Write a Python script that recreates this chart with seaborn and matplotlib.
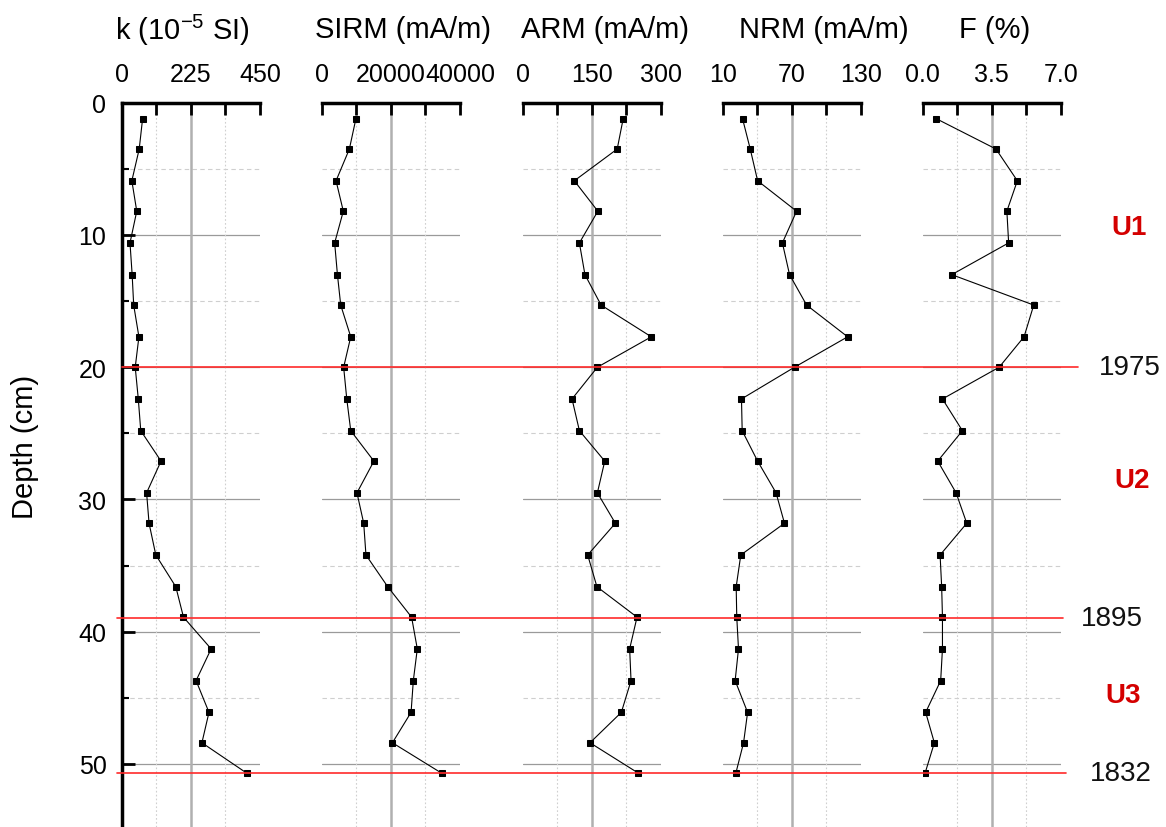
import matplotlib
matplotlib.use('Agg')
import matplotlib.pyplot as plt
import seaborn as sns
from matplotlib import transforms
from matplotlib.lines import Line2D

# Depth of each sample (cm)
depth = [1.2, 3.5, 5.9, 8.2, 10.6, 13.0, 15.3, 17.7, 20.0, 22.4, 24.8, 27.1,
         29.5, 31.8, 34.2, 36.6, 38.9, 41.3, 43.7, 46.1, 48.4, 50.7]

# Magnetic parameters read from the profile
k_vals = [68, 57, 33, 49, 27, 34, 39, 56, 44, 54, 62, 128,
          81, 89, 111, 176, 201, 291, 242, 284, 261, 407]
sirm_vals = [9900, 8000, 4150, 6250, 3750, 4550, 5500, 8400, 6350, 7250, 8400, 15100,
             10200, 12150, 12800, 19100, 26000, 27650, 26500, 25850, 20450, 34700]
arm_vals = [218, 205, 112, 163, 123, 135, 170, 279, 162, 107, 123, 178,
            162, 201, 141, 161, 248, 232, 235, 214, 146, 251]
nrm_vals = [27.2, 33.9, 40.3, 74.1, 61.8, 68.0, 82.8, 118.4, 72.3, 26.3, 26.9, 40.3,
            56.3, 63.6, 25.7, 21.7, 22.2, 23.7, 20.8, 31.6, 28.1, 21.4]
f_vals = [0.68, 3.71, 4.79, 4.26, 4.35, 1.47, 5.62, 5.13, 3.87, 1.00, 2.01, 0.76,
          1.69, 2.23, 0.88, 0.96, 1.00, 1.00, 0.91, 0.15, 0.59, 0.12]

titles = ['k (10$^{-5}$ SI)', 'SIRM (mA/m)', 'ARM (mA/m)', 'NRM (mA/m)', 'F (%)']
major_ticks = [[0, 225, 450], [0, 20000, 40000], [0, 150, 300], [10, 70, 130], [0.0, 3.5, 7.0]]
tick_labels = [['0', '225', '450'], ['0', '20000', '40000'], ['0', '150', '300'],
               ['10', '70', '130'], ['0.0', '3.5', '7.0']]
minor_ticks = [[112.5, 337.5], [10000, 30000], [75, 225], [40, 100], [1.75, 5.25]]

depth_major = [0, 10, 20, 30, 40, 50]
depth_minor = [5, 15, 25, 35, 45]

event_depths = [20, 39, 50.7]
event_years = ['1975', '1895', '1832']
unit_names = ['U1', 'U2', 'U3']
unit_depths = [9.4, 28.5, 44.8]

series = [k_vals, sirm_vals, arm_vals, nrm_vals, f_vals]

sns.set_theme(style='white')
plt.rcParams['font.family'] = ['Liberation Sans', 'DejaVu Sans']
plt.rcParams['mathtext.fontset'] = 'custom'
plt.rcParams['mathtext.rm'] = 'Liberation Sans'
plt.rcParams['mathtext.it'] = 'Liberation Sans:italic'
plt.rcParams['text.color'] = 'black'
plt.rcParams['axes.labelcolor'] = 'black'
plt.rcParams['xtick.color'] = 'black'
plt.rcParams['ytick.color'] = 'black'

W, H = 1166, 828
fig = plt.figure(figsize=(W / 100, H / 100), dpi=100)

lefts = [121.7, 321.7, 522.7, 722.7, 922.7]
panel_w = 138.3
top_px = 103.75
title_cx = [182, 403, 605, 824, 995]

axes = []
for i, vals in enumerate(series):
    ax = fig.add_axes([lefts[i] / W, 0, panel_w / W, (H - top_px) / H])
    axes.append(ax)
    ax.set_axisbelow(False)
    xt = major_ticks[i]
    ax.set_xlim(xt[0], xt[-1])
    ax.set_ylim(54.77, 0)

    # grid drawn by hand so nothing sits on the panel edges
    for d in depth_major[1:]:
        ax.axhline(d, color='#9a9a9a', lw=0.9, zorder=0.5)
    for d in depth_minor:
        ax.axhline(d, color='#cfcfcf', lw=0.8, ls=(0, (4, 3)), zorder=0.5)
    ax.axvline(xt[1], color='#b0b0b0', lw=1.8, zorder=0.5)
    for m in minor_ticks[i]:
        ax.axvline(m, color='#cfcfcf', lw=0.8, ls=(0, (1.5, 2)), zorder=0.5)

    sns.lineplot(x=vals, y=depth, ax=ax, orient='y', color='black', lw=0.8,
                 marker='s', markersize=4.5, markeredgecolor='black', zorder=3)

    ax.xaxis.tick_top()
    ax.set_xticks(xt)
    ax.set_xticklabels(tick_labels[i])
    ax.set_xticks(minor_ticks[i], minor=True)
    ax.tick_params(axis='x', which='both', direction='in', length=8.5, width=2,
                   top=True, bottom=False, labelsize=18, pad=12, color='black',
                   labelcolor='black')
    ax.set_xlabel('')
    ax.set_ylabel('')

    for s in ['right', 'bottom']:
        ax.spines[s].set_visible(False)
    ax.spines['top'].set_linewidth(2.5)
    ax.spines['top'].set_color('black')

    if i == 0:
        ax.spines['left'].set_linewidth(2.5)
        ax.spines['left'].set_color('black')
        ax.set_yticks(depth_major)
        ax.set_yticks(depth_minor, minor=True)
        ax.tick_params(axis='y', which='major', direction='in', length=9, width=2,
                       left=True, labelsize=18, pad=11, color='black', labelcolor='black')
        ax.tick_params(axis='y', which='minor', direction='in', length=5, width=1.5,
                       left=True, color='black')
        ax.set_ylabel('Depth (cm)', fontsize=21, color='black')
        ax.yaxis.set_label_coords(-0.598, 0.526)
    else:
        ax.spines['left'].set_visible(False)
        ax.tick_params(axis='y', which='both', left=False, labelleft=False)

    fig.text(title_cx[i] / W, 1 - 30 / H, titles[i], ha='center', va='center',
             fontsize=21, color='black')

# event horizons across all panels
trans = transforms.blended_transform_factory(fig.transFigure, axes[0].transData)
line_x0 = [121.7, 117, 117]
line_x1 = [1078, 1063, 1066]
year_cx = [1130, 1112, 1121]
for d, yr, x0, x1, cx in zip(event_depths, event_years, line_x0, line_x1, year_cx):
    fig.add_artist(Line2D([x0 / W, x1 / W], [d, d], transform=trans,
                          color='#ff2a2a', lw=1.2, zorder=5))
    fig.text(cx / W, d, yr, transform=trans, ha='center', va='center',
             fontsize=20, color='#111111')

unit_cx = [1129, 1132, 1123]
for name, d, cx in zip(unit_names, unit_depths, unit_cx):
    fig.text(cx / W, d, name, transform=trans, ha='center', va='center',
             fontsize=20, fontweight='bold', color='#d40000')

fig.savefig('out.png', dpi=100)
